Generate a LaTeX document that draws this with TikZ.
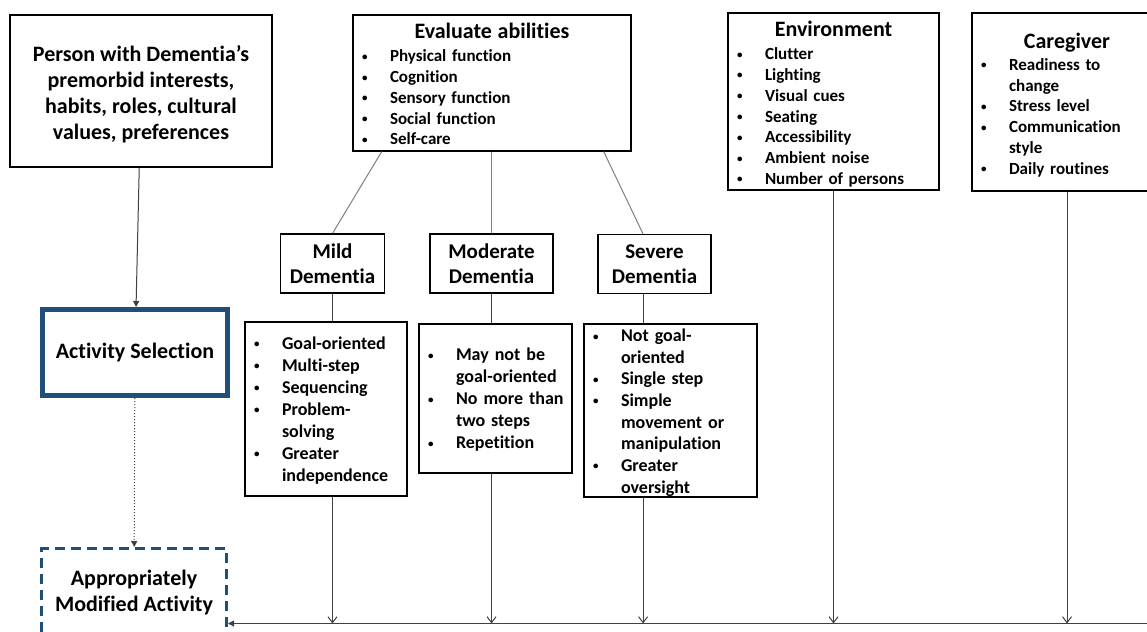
\documentclass[tikz,border=0pt]{standalone}
\usepackage{fontspec}
\setmainfont[Ligatures=NoCommon]{Carlito}
\usepackage{tikz}
\usetikzlibrary{arrows.meta, calc}
\definecolor{selblue}{HTML}{1F4E79}
\definecolor{linkgray}{HTML}{404040}
\definecolor{branchgray}{HTML}{808080}

\newcommand{\bul}{\raisebox{1.5pt}{\fontsize{11}{11}\selectfont\textbullet}}
\newcommand{\itm}[1]{\mbox{\makebox[28pt][l]{\bul}#1}}
\newcommand{\cnt}[1]{\mbox{\hspace*{28pt}#1}}
\newcommand{\hfnt}{\fontsize{22}{26}\selectfont\bfseries}
\newcommand{\dfnt}{\fontsize{21}{25}\selectfont\bfseries}
\newcommand{\sfnt}{\fontsize{17}{20.8}\selectfont\bfseries}
\newcommand{\lfnt}{\fontsize{18}{22}\selectfont\bfseries}

\tikzset{
  plainbox/.style={draw=black, line width=1.2pt, fill=white, inner xsep=9pt, inner ysep=0pt},
  headbox/.style={plainbox, align=center, font=\hfnt},
  stagebox/.style={plainbox, align=center, font=\dfnt, minimum height=59pt},
  listbox/.style={plainbox, align=left, font=\lfnt},
  factorbox/.style={plainbox, align=left, font=\sfnt},
  link/.style={draw=linkgray, line width=1pt},
  branch/.style={draw=branchgray, line width=1pt},
  feed/.style={link, -{Straight Barb[length=6pt, width=9pt]}},
  pointer/.style={link, -{Triangle[length=6pt, width=6pt]}}
}

\begin{document}
\begin{tikzpicture}[x=1pt, y=-1pt]
  \clip (0,0) rectangle (1147,631);
  \fill[white] (0,0) rectangle (1147,631);
  \coordinate (base) at (1147,623.5);

  % left column
  \node[headbox, minimum width=262pt, minimum height=152pt] (person) at (141,91) {
    \rule{0pt}{22pt}Person with Dementia’s\\premorbid interests,\\habits, roles, cultural\\values, preferences
  };
  \node[headbox, draw=selblue, line width=5pt, minimum width=185pt, minimum height=86pt] (select) at (135,352.5) {Activity Selection};
  \node[headbox, draw=selblue, line width=3pt, dash pattern=on 10pt off 6pt,
        minimum width=185pt, minimum height=85pt] (modified) at (134,591) {\rule{0pt}{19pt}Appropriately\\Modified Activity};

  % abilities and stages
  \node[factorbox, text width=260pt, minimum height=136pt] (abilities) at (492,83) {
    \makebox[\linewidth]{\rule{0pt}{18pt}\hfnt Evaluate abilities}\\[2pt]
    \itm{Physical function}\\ \itm{Cognition}\\ \itm{Sensory function}\\ \itm{Social function}\\ \itm{Self-care}
  };
  \node[stagebox, minimum width=103pt] (mild) at (332.5,263.5) {Mild\\Dementia};
  \node[stagebox, minimum width=123pt] (moderate) at (491.5,263.5) {Moderate\\Dementia};
  \node[stagebox, minimum width=113pt] (severe) at (654.5,264) {Severe\\Dementia};

  \node[listbox, text width=144pt, minimum height=174pt] (mildlist) at (326,409) {
    \itm{\rule{0pt}{15pt}Goal-oriented}\\ \itm{Multi-step}\\ \itm{Sequencing}\\ \itm{Problem-}\\ \cnt{solving}\\ \itm{Greater}\\ \cnt{independence}
  };
  \node[listbox, text width=135pt, minimum height=149pt] (moderatelist) at (495.5,398.5) {
    \itm{\rule{0pt}{15pt}May not be}\\ \cnt{goal-oriented}\\ \itm{No more than}\\ \cnt{two steps}\\ \itm{Repetition}
  };
  \node[listbox, text width=155pt, minimum height=173pt] (severelist) at (670.5,410.5) {
    \fontsize{18}{21.6}\selectfont
    \itm{\rule{0pt}{17pt}Not goal-}\\ \cnt{oriented}\\ \itm{Single step}\\ \itm{Simple}\\ \cnt{movement or}\\ \cnt{manipulation}\\ \itm{Greater}\\ \cnt{oversight}
  };

  % environment and caregiver
  \node[factorbox, text width=193pt, minimum height=177pt] (environment) at (833.5,101.5) {
    \makebox[\linewidth]{\rule{0pt}{21pt}\hfnt Environment}\\[2pt]
    \itm{Clutter}\\ \itm{Lighting}\\ \itm{Visual cues}\\ \itm{Seating}\\ \itm{Accessibility}\\ \itm{Ambient noise}\\ \itm{Number of persons}
  };
  \node[factorbox, text width=172pt, minimum height=178pt] (caregiver) at (1067,102) {
    \makebox[\linewidth]{\rule{0pt}{21pt}\hfnt Caregiver}\\[1.5pt]
    \itm{Readiness to}\\ \cnt{change}\\ \itm{Stress level}\\ \itm{Communication}\\ \cnt{style}\\ \itm{Daily routines}
  };

  % connectors
  \draw[pointer] (person) -- (select);
  \draw[pointer, dotted] (select) -- (modified);

  \draw[branch] ($(abilities.south west)!0.105!(abilities.south east)$) -- (mild.north);
  \draw[branch] (abilities.south -| moderate.north) -- (moderate.north);
  \draw[branch] ($(abilities.south west)!0.9!(abilities.south east)$) -- ($(severe.north west)!0.4!(severe.north east)$);

  \coordinate (sevx) at ($(severe.south west)!0.4!(severe.south east)$);
  \draw[link] (mild.south) -- (mild.south |- mildlist.north);
  \draw[link] (moderate.south) -- (moderate.south |- moderatelist.north);
  \draw[link] (sevx) -- (sevx |- severelist.north);

  \draw[feed] (mild.south |- mildlist.south) -- (mild.south |- base);
  \draw[feed] (moderate.south |- moderatelist.south) -- (moderate.south |- base);
  \draw[feed] (sevx |- severelist.south) -- (sevx |- base);
  \draw[feed] (environment.south) -- (environment.south |- base);
  \draw[feed] (caregiver.south) -- (caregiver.south |- base);

  \draw[pointer] (base) -- (base -| modified.east);
\end{tikzpicture}
\end{document}
